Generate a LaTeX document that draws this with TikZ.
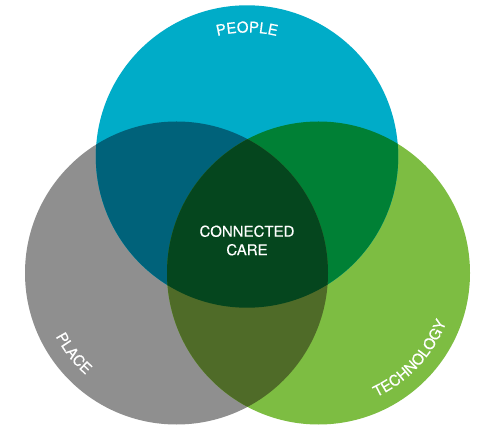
\documentclass[tikz,border=0pt]{standalone}
\usepackage{fontspec}
\setmainfont[FakeBold=0.25]{TeX Gyre Heros}
\usetikzlibrary{decorations.text}
\definecolor{cBlue}{HTML}{00ACC8}
\definecolor{cGray}{HTML}{8F8F8F}
\definecolor{cGreen}{HTML}{7DBD42}
\definecolor{cBG}{HTML}{00627A}
\definecolor{cBGr}{HTML}{008035}
\definecolor{cGG}{HTML}{4F6B28}
\definecolor{cAll}{HTML}{05461E}
\tikzset{
  curved/.style={decorate,decoration={text along path,text align={align=center},
    text={|\fontsize{15}{15}\selectfont\color{white}|#1}}},
  label/.style={text=white,font=\fontsize{15}{18.5}\selectfont,align=center}
}
\newcommand{\cT}{(247,268.5) circle (151.2)}
\newcommand{\cL}{(176.5,152) circle (151.5)}
\newcommand{\cR}{(318.5,152) circle (151.5)}
\begin{document}
\begin{tikzpicture}[x=1pt,y=1pt]
\useasboundingbox (0,0) rectangle (481,425);
\fill[white] (0,0) rectangle (481,425);
\fill[cGray] \cL;
\fill[cGreen] \cR;
\fill[cBlue] \cT;
\begin{scope}\clip \cT; \fill[cBG] \cL; \end{scope}
\begin{scope}\clip \cT; \fill[cBGr] \cR; \end{scope}
\begin{scope}\clip \cL; \fill[cGG] \cR; \end{scope}
\begin{scope}\clip \cT; \clip \cL; \fill[cAll] \cR; \end{scope}
\node[label] (care) at (247,184.5) {CONNECTED\\CARE};
\path[curved=PEOPLE] (247,268.5) ++(120:124) arc (120:60:124);
\path[curved=PLACE] (176.5,152) ++(193:136.5) arc (193:243:136.5);
\path[curved=TECHNOLOGY] (318.5,152) ++(272:137) arc (272:362:137);
\end{tikzpicture}
\end{document}
